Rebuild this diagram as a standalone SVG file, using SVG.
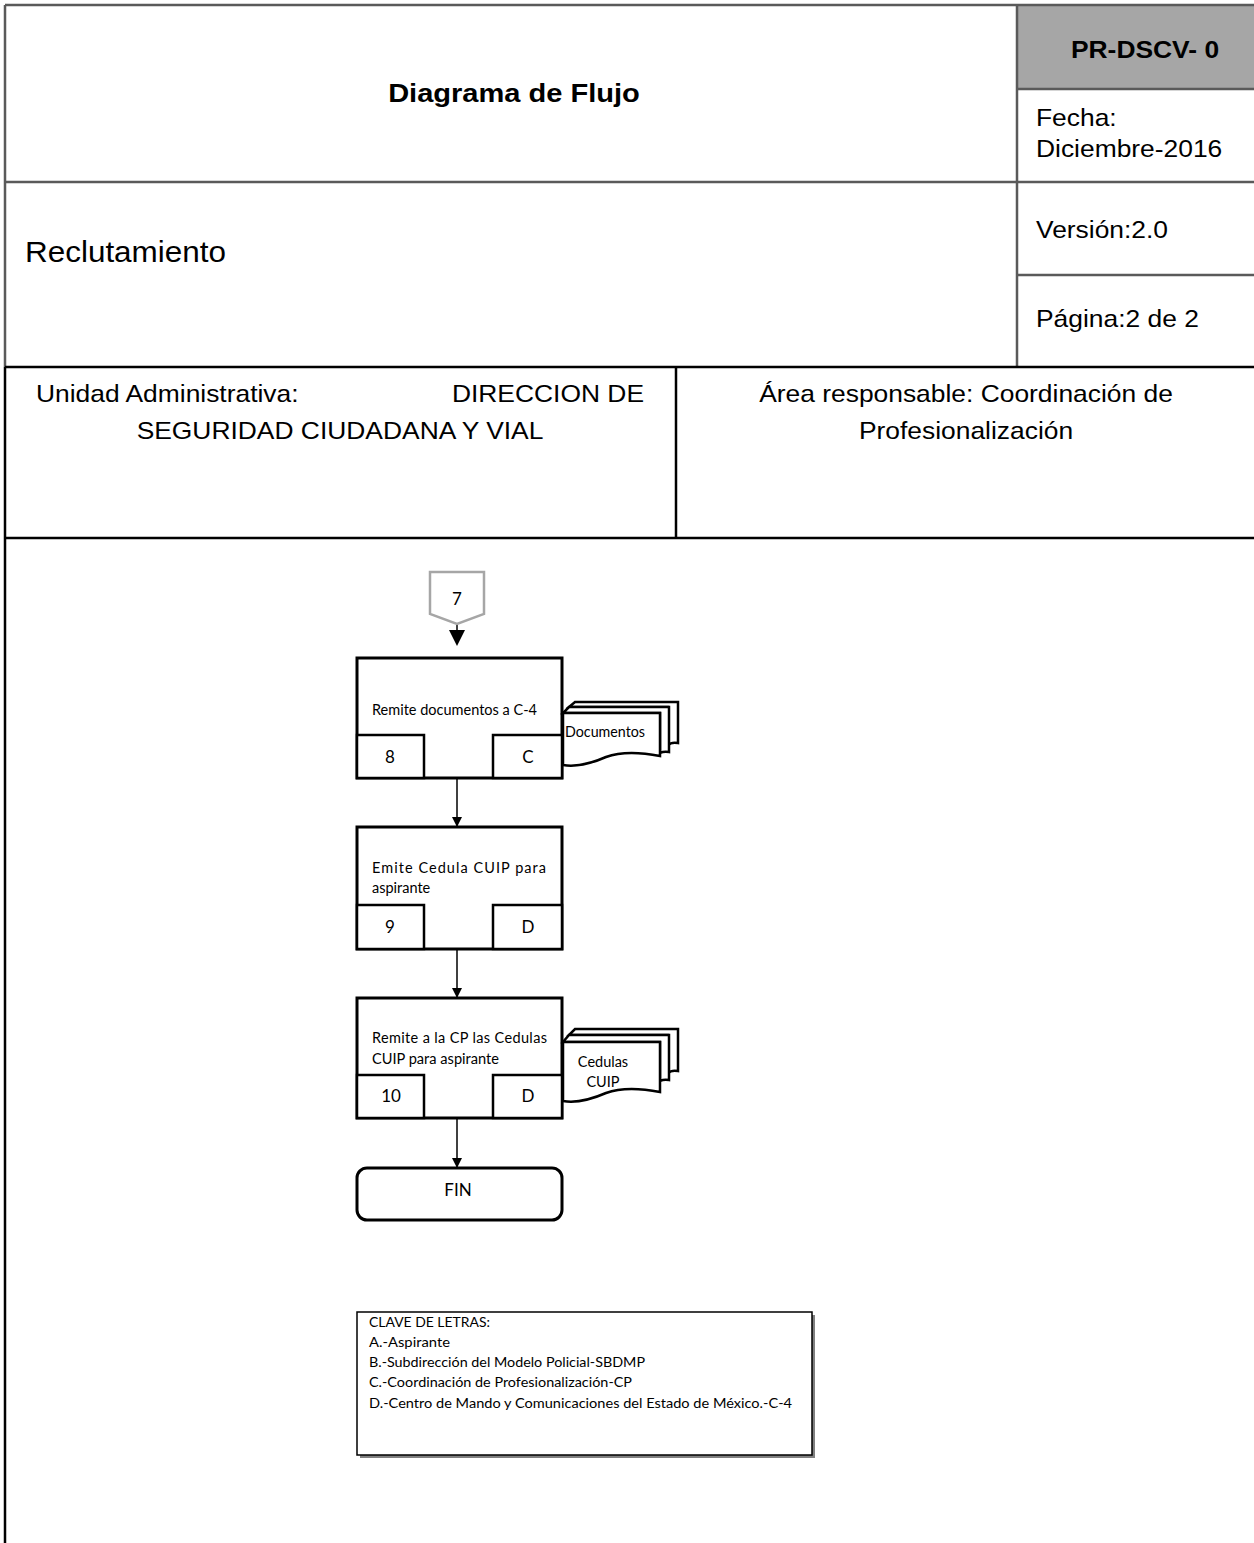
<svg xmlns="http://www.w3.org/2000/svg" width="1254" height="1543" viewBox="0 0 1254 1543">
<defs>
<style>
.hl{stroke:#5a5a5a;stroke-width:2.5;fill:none}
.bl{stroke:#000;stroke-width:2.5;fill:none}
.ar{font-family:"Liberation Sans",Arial,sans-serif;font-size:24px;fill:#000}
.arb{font-family:"Liberation Sans",Arial,sans-serif;font-weight:bold;fill:#000}
.box{fill:#fff;stroke:#000;stroke-width:3}
.sub{fill:#fff;stroke:#000;stroke-width:2.5}
.doc{fill:#fff;stroke:#000;stroke-width:2.5}
.ft{font-family:Lato,"Open Sans",sans-serif;font-size:14.5px;fill:#000}
.fn{font-family:Lato,"Open Sans",sans-serif;font-size:17px;fill:#000;text-anchor:middle}
.lg{font-family:Lato,"Open Sans",sans-serif;font-size:13.5px;fill:#000}
.cn{stroke:#000;stroke-width:1.5;fill:none}
</style>
<marker id="ah" markerWidth="12" markerHeight="10" refX="10" refY="5" orient="auto" markerUnits="userSpaceOnUse">
<path d="M0,0 L10,5 L0,10 Z" fill="#000"/>
</marker>
</defs>

<g id="header">
<rect x="1017" y="5" width="237" height="84" fill="#a6a6a6"/>
<line class="hl" x1="5" y1="5" x2="1254" y2="5"/>
<line class="hl" x1="1017" y1="5" x2="1017" y2="367"/>
<line class="hl" x1="1017" y1="89" x2="1254" y2="89"/>
<line class="hl" x1="5" y1="182" x2="1254" y2="182"/>
<line class="hl" x1="1017" y1="275" x2="1254" y2="275"/>
<line class="hl" x1="5" y1="5" x2="5" y2="367"/>
<line class="bl" x1="5" y1="367" x2="1254" y2="367"/>
<line class="bl" x1="676" y1="367" x2="676" y2="538"/>
<line class="bl" x1="5" y1="538" x2="1254" y2="538"/>
<line class="bl" x1="5" y1="367" x2="5" y2="1543"/>
<text class="arb" transform="translate(514,102) scale(1.1,1)" text-anchor="middle" style="font-size:26.4px">Diagrama de Flujo</text>
<text class="arb" transform="translate(1145,58) scale(1.1,1)" text-anchor="middle" style="font-size:24px">PR-DSCV- 0</text>
<text class="ar" transform="translate(1036,126) scale(1.1,1)">Fecha:</text>
<text class="ar" transform="translate(1036,157) scale(1.1,1)">Diciembre-2016</text>
<text class="ar" transform="translate(1036,238) scale(1.1,1)">Versión:2.0</text>
<text class="ar" transform="translate(1036,327) scale(1.1,1)">Página:2 de 2</text>
<text class="ar" transform="translate(25,262) scale(1.1,1)" style="font-size:28.6px">Reclutamiento</text>
<text class="ar" transform="translate(36,402) scale(1.1,1)">Unidad Administrativa:</text>
<text class="ar" transform="translate(644,402) scale(1.1,1)" text-anchor="end">DIRECCION DE</text>
<text class="ar" transform="translate(340,439) scale(1.1,1)" text-anchor="middle">SEGURIDAD CIUDADANA Y VIAL</text>
<text class="ar" transform="translate(966,402) scale(1.1,1)" text-anchor="middle">Área responsable: Coordinación de</text>
<text class="ar" transform="translate(966,439) scale(1.1,1)" text-anchor="middle">Profesionalización</text>
</g>

<g id="connectors">
<line class="cn" x1="457" y1="614" x2="457" y2="631"/>
<path d="M449,630 L465,630 L457,646 Z" fill="#000"/>
<line class="cn" x1="457" y1="778" x2="457" y2="827" marker-end="url(#ah)"/>
<line class="cn" x1="457" y1="949" x2="457" y2="998" marker-end="url(#ah)"/>
<line class="cn" x1="457" y1="1118" x2="457" y2="1168" marker-end="url(#ah)"/>
</g>

<g id="node-7">
<path d="M430,572 L484,572 L484,614 L457,624 L430,614 Z" fill="#fff" stroke="#a6a6a6" stroke-width="2.5"/>
<text class="fn" x="457" y="605">7</text>
</g>

<g id="node-8">
<rect class="box" x="357" y="658" width="205" height="120"/>
<rect class="sub" x="357" y="735" width="67" height="43"/>
<rect class="sub" x="493" y="735" width="69" height="43"/>
<text class="ft" x="372" y="715" textLength="165" lengthAdjust="spacingAndGlyphs">Remite documentos a C-4</text>
<text class="fn" x="390" y="763">8</text>
<text class="fn" x="528" y="763">C</text>
</g>

<g id="doc-documentos">
<path class="doc" d="M575,702 H678 V743 C672,742 669,744 668,745 V707 H569 Z"/>
<path class="doc" d="M569,707 H669 V752 C664,751 662,752 660,753 V713 H563 Z"/>
<path class="doc" d="M563,713 H660 V756 C640,752 622,751 606,757 C590,764 575,767 563,765 Z"/>
<text class="ft" x="565" y="737" textLength="80" lengthAdjust="spacingAndGlyphs">Documentos</text>
</g>

<g id="node-9">
<rect class="box" x="357" y="827" width="205" height="122"/>
<rect class="sub" x="357" y="905" width="67" height="44"/>
<rect class="sub" x="493" y="905" width="69" height="44"/>
<text class="ft" x="372" y="873" textLength="174" lengthAdjust="spacing">Emite Cedula CUIP para</text>
<text class="ft" x="372" y="893">aspirante</text>
<text class="fn" x="390" y="933">9</text>
<text class="fn" x="528" y="933">D</text>
</g>

<g id="node-10">
<rect class="box" x="357" y="998" width="205" height="120"/>
<rect class="sub" x="357" y="1075" width="67" height="43"/>
<rect class="sub" x="493" y="1075" width="69" height="43"/>
<text class="ft" x="372" y="1043" textLength="175" lengthAdjust="spacing">Remite a la CP las Cedulas</text>
<text class="ft" x="372" y="1064" textLength="127" lengthAdjust="spacingAndGlyphs">CUIP para aspirante</text>
<text class="fn" x="391" y="1102">10</text>
<text class="fn" x="528" y="1102">D</text>
</g>

<g id="doc-cedulas">
<path class="doc" d="M575,1029 H678 V1071 C672,1070 669,1072 668,1073 V1035 H569 Z"/>
<path class="doc" d="M569,1035 H669 V1080 C664,1079 662,1080 660,1081 V1042 H563 Z"/>
<path class="doc" d="M563,1042 H660 V1092 C640,1088 622,1087 606,1093 C590,1100 575,1103 563,1101 Z"/>
<text class="ft" x="603" y="1067" text-anchor="middle">Cedulas</text>
<text class="ft" x="603" y="1087" text-anchor="middle">CUIP</text>
</g>

<g id="node-fin">
<rect class="box" x="357" y="1168" width="205" height="52" rx="10"/>
<text class="fn" x="458" y="1196">FIN</text>
</g>

<g id="legend">
<rect x="360" y="1315" width="455" height="143" fill="#808080"/>
<rect x="357" y="1312" width="455" height="143" fill="#fff" stroke="#000" stroke-width="1.5"/>
<text class="lg" x="369" y="1327" textLength="121" lengthAdjust="spacingAndGlyphs">CLAVE DE LETRAS:</text>
<text class="lg" x="369" y="1347" textLength="81" lengthAdjust="spacingAndGlyphs">A.-Aspirante</text>
<text class="lg" x="369" y="1367" textLength="276" lengthAdjust="spacingAndGlyphs">B.-Subdirección del Modelo Policial-SBDMP</text>
<text class="lg" x="369" y="1387" textLength="263" lengthAdjust="spacingAndGlyphs">C.-Coordinación de Profesionalización-CP</text>
<text class="lg" x="369" y="1408" textLength="423" lengthAdjust="spacingAndGlyphs">D.-Centro de Mando y Comunicaciones del Estado de México.-C-4</text>
</g>
</svg>
